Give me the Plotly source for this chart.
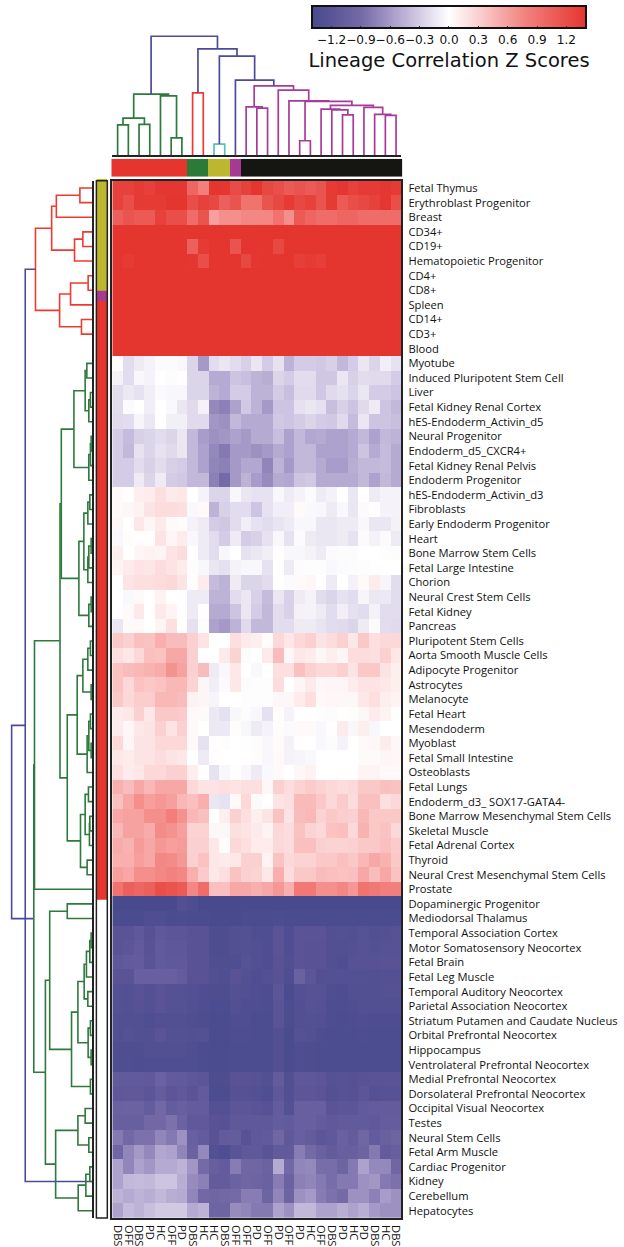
import plotly.graph_objects as go

W, H = 624, 1247

col_labels = ["DBS","OFF","DBS","PD","HC","OFF","PD","DBS","HC","HC","DBS","OFF","OFF","PD","OFF","PD","OFF","PD","HC","OFF","DBS","PD","HC","PD","DBS","HC","DBS"]
row_labels = ["Fetal Thymus","Erythroblast Progenitor","Breast","CD34+","CD19+","Hematopoietic Progenitor","CD4+","CD8+","Spleen","CD14+","CD3+","Blood",
"Myotube","Induced Pluripotent Stem Cell","Liver","Fetal Kidney Renal Cortex","hES-Endoderm_Activin_d5","Neural Progenitor","Endoderm_d5_CXCR4+","Fetal Kidney Renal Pelvis","Endoderm Progenitor",
"hES-Endoderm_Activin_d3","Fibroblasts","Early Endoderm Progenitor","Heart","Bone Marrow Stem Cells","Fetal Large Intestine","Chorion","Neural Crest Stem Cells","Fetal Kidney","Pancreas",
"Pluripotent Stem Cells","Aorta Smooth Muscle Cells","Adipocyte Progenitor","Astrocytes","Melanocyte","Fetal Heart","Mesendoderm","Myoblast","Fetal Small Intestine","Osteoblasts",
"Fetal Lungs","Endoderm_d3_ SOX17-GATA4-","Bone Marrow Mesenchymal Stem Cells","Skeletal Muscle","Fetal Adrenal Cortex","Thyroid","Neural Crest Mesenchymal Stem Cells","Prostate",
"Dopaminergic Progenitor","Mediodorsal Thalamus","Temporal Association Cortex","Motor Somatosensory Neocortex","Fetal Brain","Fetal Leg Muscle","Temporal Auditory Neocortex","Parietal Association Neocortex",
"Striatum Putamen and Caudate Nucleus","Orbital Prefrontal Neocortex","Hippocampus","Ventrolateral Prefrontal Neocortex","Medial Prefrontal Neocortex","Dorsolateral Prefrontal Neocortex","Occipital Visual Neocortex",
"Testes","Neural Stem Cells","Fetal Arm Muscle","Cardiac Progenitor","Kidney","Cerebellum","Hepatocytes"]

z_high = [
[1.3,1.3,1.35,1.32,1.38,1.38,1.38,1.0,.8,1.4,1.38,1.22,1.3,1.4,1.25,1.2,1.1,1.15,1.1,1.15,1.35,1.38,1.3,1.35,1.35,1.38,1.35],
[1.3,1.2,1.35,1.35,1.35,1.4,1.4,1.2,1.3,1.25,1.05,1.15,.9,.9,1.15,1.25,1.35,1.25,1.3,1.15,1.35,1.1,1.2,1.25,1.3,1.38,1.2],
[1.05,1.15,1.1,1.1,1.3,1.2,1.2,.95,1.15,.6,.7,.7,.75,.75,.75,.9,.7,1.1,1.0,.95,.95,1.0,1.0,.95,.95,.95,.95],
[1.4]*27,
[1.4,1.4,1.4,1.4,1.4,1.4,1.4,1.05,1.35,1.4,1.4,1.15,1.4,1.4,1.4,1.25,1.4,1.4,1.4,1.4,1.4,1.4,1.4,1.4,1.4,1.4,1.4],
[1.4,1.35,1.4,1.4,1.4,1.4,1.4,1.38,1.2,1.4,1.4,1.4,1.25,1.38,1.4,1.4,1.4,1.33,1.35,1.33,1.4,1.4,1.4,1.4,1.4,1.4,1.4],
[1.4]*27,[1.4]*27,[1.4]*27,[1.4]*27,[1.4]*27,[1.4]*27,
]
z_mid_low = [
[.02,-.2,-.12,-.07,-.03,-.03,-.05,-.25,-.6,-.2,-.15,-.2,-.28,-.15,-.3,-.17,-.45,-.3,-.3,-.32,-.28,-.42,-.3,-.15,-.25,-.1,-.17],
[-.08,-.2,-.05,-.07,0,-.02,0,-.25,-.25,-.5,-.5,-.35,-.38,-.45,-.48,-.25,-.3,-.2,-.2,-.33,-.33,-.15,-.28,-.2,-.22,-.22,-.3],
[-.2,-.13,-.17,-.1,-.03,-.05,-.05,-.25,-.25,-.45,-.5,-.3,-.3,-.45,-.45,-.3,-.38,-.22,-.22,-.33,-.22,-.18,-.25,-.15,-.3,-.3,-.35],
[-.2,-.03,0,-.1,0,-.04,-.15,-.22,-.08,-.7,-.75,-.55,-.32,-.45,-.6,-.35,-.35,-.18,-.15,-.18,-.38,-.28,-.35,-.22,-.12,-.35,-.42],
[-.22,-.2,-.06,-.14,0,-.09,-.09,-.22,-.22,-.62,-.65,-.42,-.5,-.5,-.5,-.32,-.35,-.3,-.25,-.3,-.32,-.22,-.4,-.15,-.35,-.35,-.38],
[-.3,-.4,-.28,-.25,-.2,-.25,-.15,-.42,-.58,-.65,-.62,-.55,-.6,-.5,-.5,-.38,-.55,-.42,-.52,-.5,-.55,-.55,-.5,-.42,-.55,-.42,-.45],
[-.3,-.42,-.17,-.25,-.17,-.22,-.15,-.42,-.55,-.7,-.8,-.6,-.6,-.65,-.6,-.5,-.55,-.42,-.42,-.55,-.55,-.55,-.5,-.35,-.5,-.4,-.5],
[-.3,-.3,-.2,-.28,-.2,-.28,-.3,-.42,-.55,-.72,-.75,-.6,-.52,-.52,-.72,-.45,-.6,-.42,-.42,-.5,-.58,-.58,-.48,-.42,-.42,-.4,-.5],
[-.3,-.3,-.12,-.25,-.12,-.3,-.32,-.42,-.42,-.75,-.9,-.6,-.45,-.58,-.68,-.5,-.52,-.35,-.32,-.5,-.5,-.5,-.5,-.42,-.55,-.42,-.5],
]
z_near_zero = [
[.03,0,.1,.12,.2,.13,.15,0,-.07,-.25,-.25,-.05,-.15,-.17,-.17,-.05,-.12,-.07,-.03,-.12,-.08,0,-.15,0,-.12,-.07,-.07],
[.03,.05,.08,.17,.22,.22,.2,-.04,.04,-.45,-.28,-.2,-.2,-.35,-.17,-.1,-.1,.03,-.04,-.05,-.12,-.04,-.15,-.03,0,-.07,-.07],
[.05,0,.15,.06,.13,.04,.02,-.08,-.12,-.3,-.33,-.2,-.1,-.17,-.2,-.16,-.12,-.05,-.05,-.15,-.15,-.12,-.12,-.05,-.15,-.15,-.08],
[-.05,.02,.01,.01,.17,.06,.12,-.05,-.12,-.2,-.3,-.12,-.3,-.27,-.17,-.05,-.17,-.03,-.12,-.15,-.15,-.12,-.17,-.03,-.08,-.03,-.12],
[.1,0,.06,.08,.07,.18,.22,0,-.12,-.2,-.05,0,-.17,-.14,-.1,.01,-.05,-.05,-.07,-.12,-.03,-.02,-.02,0,0,-.01,-.02],
[.07,.13,.18,.16,.22,.18,.13,-.01,-.05,-.15,-.18,-.07,-.05,-.05,-.17,0,-.12,-.02,-.01,-.01,-.04,-.03,-.02,-.01,0,0,0],
[0,.17,.2,.2,.22,.25,.17,-.01,.12,-.4,-.45,-.12,-.25,-.25,-.2,0,-.03,.03,.05,0,-.12,0,-.08,.03,.12,-.06,-.2],
[0,-.04,.04,0,.08,0,0,-.12,-.12,-.45,-.45,-.2,-.15,-.28,-.4,-.15,-.27,-.12,-.07,-.2,-.25,-.17,-.2,-.06,-.14,-.13,-.2],
[0,.04,.14,0,.14,.07,0,-.12,0,-.5,-.5,-.35,-.15,-.3,-.42,-.2,-.27,-.08,-.07,-.12,-.2,-.1,-.18,-.2,-.08,-.2,-.2],
[-.15,.03,.04,0,.07,.2,0,-.18,-.01,-.55,-.6,-.45,-.22,-.42,-.42,-.2,-.2,-.12,-.12,-.16,-.2,-.22,-.25,-.12,-.03,-.2,-.22],
]
z_light_pos = [
[.35,.3,.4,.38,.5,.42,.42,.3,.18,0,0,.2,.13,.1,.02,.25,.15,.25,.3,.17,.22,.3,.15,.35,.2,.25,.25],
[.2,.15,.25,.4,.38,.55,.55,.3,0,0,.13,.28,-.02,0,.13,.42,.05,.15,.12,.05,.1,.06,.22,.22,.2,.3,.15],
[.38,.42,.45,.48,.52,.68,.58,.3,.42,-.12,-.04,.15,0,-.04,0,.2,.2,.4,.3,.25,.25,.3,.17,.35,.35,.17,.1],
[.38,.25,.38,.35,.38,.45,.45,.28,.06,-.1,-.03,.15,-.02,-.01,-.01,.22,0,.06,.13,.05,.06,.06,.12,.18,.18,.15,.1],
[.35,.25,.32,.32,.45,.45,.42,.08,.06,-.06,0,0,-.01,-.01,-.01,.05,.05,.12,.2,.04,.05,.05,.05,.15,.2,.1,.08],
[.12,.15,.3,.15,.35,.35,.33,.04,.03,-.13,-.18,-.05,-.02,-.05,-.18,.02,-.07,0,0,-.01,-.02,0,.02,.05,.12,.08,0],
[.12,.05,.15,.17,.3,.18,.3,.03,0,-.13,-.13,.02,-.05,-.12,-.07,.02,-.03,.04,.03,-.05,.01,.13,-.05,.1,-.05,0,0],
[.25,.06,.17,.17,.25,.25,.25,.04,-.17,0,.02,0,0,.02,-.05,.03,-.08,0,0,-.04,-.02,-.07,0,.03,.05,.12,.05],
[.15,.12,.17,.17,.22,.17,.15,0,-.12,.01,0,0,0,.02,-.05,.04,-.07,-.06,-.04,0,0,0,0,.03,.03,.06,.05],
[.2,.12,.15,.25,.25,.3,.3,.1,0,-.17,-.05,.01,-.05,-.12,-.04,.04,0,.05,.09,0,0,0,0,.07,.08,.04,.04],
]
z_pos = [
[.5,.42,.55,.45,.55,.55,.55,.25,.18,.18,.2,.18,.2,.2,.05,.3,.22,.28,.33,.28,.25,.22,.25,.35,.35,.4,.38],
[.4,.55,.7,.6,.65,.6,.45,.4,.5,-.15,-.17,.04,.25,.03,0,.18,.2,.43,.43,.35,.25,.33,.22,.4,.4,.2,.25],
[.55,.58,.58,.7,.7,.8,.68,.45,.4,0,.1,.3,.2,.1,.17,.38,.18,.42,.45,.28,.35,.32,.3,.45,.35,.35,.35],
[.45,.58,.58,.52,.72,.68,.6,.28,.28,.05,.05,.2,.18,.13,.08,.25,.22,.38,.28,.25,.38,.4,.25,.48,.35,.38,.25],
[.52,.48,.62,.55,.65,.6,.62,.3,.3,.15,.02,.25,.2,.12,.12,.25,.22,.4,.4,.3,.28,.28,.3,.35,.35,.4,.33],
[.5,.5,.6,.55,.75,.72,.65,.3,.38,.15,.13,.15,.3,.3,.08,.38,.25,.28,.28,.35,.35,.4,.35,.45,.55,.48,.35],
[.6,.55,.7,.7,.75,.78,.75,.5,.33,.15,.2,.38,.3,.28,.15,.5,.22,.35,.35,.42,.4,.38,.4,.55,.42,.55,.38],
[.9,1.05,1.0,1.05,1.2,1.15,1.1,.75,.95,.4,.4,.55,.55,.5,.55,.65,.5,.85,.85,.7,.7,.75,.65,.9,.85,.8,.8],
]
z_neg = [
[-1.4,-1.4,-1.4,-1.4,-1.4,-1.4,-1.3,-1.35,-1.4,-1.4,-1.4,-1.4,-1.4,-1.4,-1.4,-1.4,-1.4,-1.4,-1.4,-1.4,-1.4,-1.4,-1.4,-1.4,-1.4,-1.4,-1.4],
[-1.38,-1.38,-1.38,-1.32,-1.32,-1.38,-1.36,-1.38,-1.38,-1.4,-1.4,-1.4,-1.38,-1.38,-1.38,-1.36,-1.38,-1.38,-1.38,-1.38,-1.38,-1.38,-1.38,-1.38,-1.38,-1.38,-1.38],
[-1.2,-1.2,-1.15,-1.25,-1.15,-1.18,-1.18,-1.22,-1.22,-1.35,-1.35,-1.3,-1.28,-1.32,-1.32,-1.2,-1.32,-1.2,-1.2,-1.2,-1.3,-1.28,-1.3,-1.25,-1.3,-1.28,-1.25],
[-1.2,-1.18,-1.12,-1.22,-1.12,-1.16,-1.16,-1.22,-1.22,-1.35,-1.35,-1.3,-1.28,-1.3,-1.32,-1.2,-1.32,-1.2,-1.22,-1.22,-1.3,-1.3,-1.28,-1.25,-1.28,-1.24,-1.24],
[-1.15,-1.12,-1.1,-1.2,-1.12,-1.15,-1.15,-1.22,-1.22,-1.33,-1.33,-1.32,-1.25,-1.3,-1.32,-1.22,-1.3,-1.2,-1.22,-1.22,-1.3,-1.32,-1.25,-1.25,-1.25,-1.22,-1.22],
[-1.2,-1.2,-1.05,-1.05,-1.05,-1.05,-1.1,-1.22,-1.22,-1.3,-1.32,-1.22,-1.28,-1.32,-1.28,-1.22,-1.32,-1.02,-1.18,-1.3,-1.28,-1.28,-1.28,-1.28,-1.3,-1.28,-1.28],
[-1.27,-1.28,-1.22,-1.28,-1.2,-1.27,-1.27,-1.28,-1.32,-1.35,-1.35,-1.28,-1.3,-1.32,-1.34,-1.18,-1.38,-1.28,-1.25,-1.25,-1.32,-1.34,-1.3,-1.3,-1.3,-1.27,-1.27],
[-1.27,-1.28,-1.25,-1.28,-1.2,-1.27,-1.27,-1.3,-1.32,-1.36,-1.36,-1.3,-1.32,-1.32,-1.34,-1.2,-1.36,-1.3,-1.25,-1.26,-1.34,-1.34,-1.32,-1.3,-1.3,-1.3,-1.3],
[-1.3,-1.3,-1.3,-1.32,-1.3,-1.3,-1.3,-1.33,-1.35,-1.38,-1.38,-1.33,-1.32,-1.36,-1.36,-1.2,-1.37,-1.3,-1.28,-1.3,-1.34,-1.36,-1.34,-1.33,-1.34,-1.34,-1.34],
[-1.3,-1.27,-1.3,-1.3,-1.2,-1.28,-1.28,-1.3,-1.28,-1.38,-1.38,-1.35,-1.34,-1.36,-1.36,-1.3,-1.38,-1.27,-1.3,-1.34,-1.36,-1.36,-1.36,-1.34,-1.36,-1.36,-1.36],
[-1.33,-1.32,-1.33,-1.3,-1.3,-1.3,-1.3,-1.32,-1.36,-1.38,-1.38,-1.36,-1.36,-1.36,-1.36,-1.3,-1.38,-1.33,-1.35,-1.36,-1.36,-1.36,-1.36,-1.36,-1.36,-1.36,-1.36],
[-1.33,-1.32,-1.34,-1.32,-1.32,-1.32,-1.32,-1.32,-1.36,-1.38,-1.38,-1.36,-1.36,-1.36,-1.36,-1.3,-1.38,-1.33,-1.35,-1.36,-1.36,-1.36,-1.36,-1.36,-1.36,-1.36,-1.36],
[-1.12,-1.12,-1.12,-1.14,-1.02,-1.12,-1.12,-1.16,-1.18,-1.35,-1.35,-1.22,-1.22,-1.24,-1.3,-1.1,-1.3,-1.16,-1.16,-1.18,-1.26,-1.24,-1.26,-1.22,-1.2,-1.2,-1.2],
[-1.16,-1.14,-1.14,-1.18,-1.08,-1.18,-1.14,-1.2,-1.12,-1.36,-1.36,-1.26,-1.26,-1.28,-1.32,-1.16,-1.3,-1.18,-1.18,-1.2,-1.28,-1.24,-1.26,-1.18,-1.26,-1.24,-1.24],
[-1.02,-1.0,-1.0,-1.08,-.92,-1.08,-1.05,-1.1,-1.1,-1.28,-1.28,-1.18,-1.18,-1.2,-1.25,-1.1,-1.28,-1.05,-1.05,-1.05,-1.2,-1.18,-1.18,-1.12,-1.1,-1.1,-1.1],
[-1.05,-1.05,-1.05,-.92,-.92,-.85,-1.0,-1.15,-1.15,-1.22,-1.25,-1.14,-1.14,-1.14,-1.14,-1.08,-1.12,-1.05,-1.05,-1.1,-1.15,-1.12,-1.12,-1.12,-1.15,-1.08,-1.08],
[-.8,-.92,-.85,-.85,-.72,-.8,-.65,-1.05,-1.1,-1.22,-1.1,-1.08,-1.22,-1.15,-1.12,-.95,-1.15,-1.05,-1.1,-1.18,-1.15,-1.03,-1.1,-.95,-1.1,-1.03,-.98],
[-.95,-.72,-.6,-.7,-.52,-.55,-.72,-1.0,-.7,-1.28,-1.32,-1.2,-1.15,-1.15,-1.2,-1.12,-1.12,-.78,-.9,-1.02,-1.1,-1.05,-1.05,-.98,-.8,-1.1,-1.05],
[-.55,-.72,-.55,-.62,-.5,-.5,-.45,-.62,-.9,-1.05,-1.1,-.78,-.95,-.95,-1.0,-.5,-.92,-.72,-.7,-.88,-.88,-.98,-.8,-.55,-.7,-.7,-.95],
[-.55,-.42,-.4,-.42,-.35,-.35,-.48,-.68,-.75,-1.1,-1.1,-1.0,-.95,-.98,-1.02,-.78,-1.0,-.75,-.72,-.8,-.88,-.8,-.8,-.65,-.62,-.8,-.85],
[-.45,-.5,-.45,-.48,-.42,-.48,-.5,-.72,-.92,-.95,-.92,-.9,-.78,-.78,-.98,-.72,-.98,-.65,-.6,-.78,-.85,-.9,-.65,-.65,-.75,-.58,-.65],
[-.55,-.4,-.45,-.38,-.32,-.32,-.32,-.5,-.45,-.98,-.98,-.68,-.72,-.8,-.8,-.55,-.65,-.42,-.42,-.55,-.55,-.48,-.55,-.48,-.6,-.65,-.65],
]
z_values = z_high + z_mid_low + z_near_zero + z_light_pos + z_pos + z_neg

col_clusters = [0]*7 + [1]*2 + [2]*2 + [3] + [4]*15
cluster_colors = ["#e5352f", "#2c7a38", "#bdb72f", "#a63a92", "#151512", "#ffffff"]
row_band_edges = [-0.64, 7.02, 7.7, 48.7, 70.5]
row_band_clusters = [2, 3, 0, 5]

BLUE, GREEN, RED, CYAN, MAG = "#4b4a9c", "#2d7a3c", "#ee3a30", "#5fbcb8", "#a83b9a"

# Top (column) dendrogram: (height, left, right, colour); ints are leaves
t_green = (61, (37, (30.3, 0, 1, GREEN), (30.7, 2, 3, GREEN), GREEN),
           (59.3, 4, (17.3, 5, 6, GREEN), GREEN), GREEN)
t_red = (62.3, 7, 8, RED)
t_cyan = (11, 9, 10, CYAN)
t_a = (48.3, 12, (47, 13, 14, MAG), MAG)
t_b = (46, 19, (45.3, 20, (40.3, 21, 22, MAG), MAG), MAG)
t_c = (47.7, 23, (40.7, 24, (39.7, 25, 26, MAG), MAG), MAG)
t_d = (53.7, (14.3, 17, 18, MAG), (49.7, t_b, t_c, MAG), MAG)
t_e = (65, 15, (54.3, 16, t_d, MAG), MAG)
t_f = (75, 11, (69.3, t_a, t_e, MAG), BLUE)
top_tree = (119, t_green, (106.3, t_red, (99, t_cyan, t_f, BLUE), BLUE), BLUE)

# Left (row) dendrogram
r_1 = (40.7, (36, (12.3, 0, 1, RED), 2, RED), (17.7, (9.3, 3, 4, RED), 5, RED), RED)
r_2 = (32.7, (21.7, (4, 6, 7, RED), 8, RED), (10.7, 9, 10, RED), RED)
r_red = (57, r_1, r_2, RED)
g = GREEN
g_1 = (7, (5.3, 12, 13, g), (3.3, (1.7, 14, 15, g), 16, g), g)
g_2 = (3.3, (1.7, (1, 17, 18, g), 19, g), 20, g)
g_3 = (18.3, g_1, g_2, g)
g_4 = (8.3, (4.3, (2.3, 21, 22, g), 23, g),
       (4.3, (3.3, (1, 24, 25, g), 26, g), 27, g), g)
g_5 = (13.3, g_4, (3.3, (1, 28, 29, g), 30, g), g)
g_6 = (31, g_3, g_5, g)
g_7 = (9.3, (4.3, (1.7, 31, 32, g), 33, g), (1, 34, 35, g), g)
g_8 = (5, (3.3, (1.7, 36, 37, g), (1, 38, 39, g), g), 40, g)
g_9 = (15, g_7, g_8, g)
g_10 = (7, (3.7, 41, 42, g), (2.7, (2.3, 43, 44, g), 45, g), g)
g_11 = (11.7, g_10, (5, 46, 47, g), g)
g_12 = (32.3, g_6, (25, g_9, g_11, g), g)
g_13 = (58, g_12, 48, g)
g_14 = (8, (5.7, (2.3, (1, 51, 52, g), 53, g), 54, g), (4.3, 55, 56, g), g)
g_15 = (4, (1.7, 57, 58, g), (1, 59, 60, g), g)
g_16 = (20.7, (14.3, g_14, g_15, g), (1.7, 61, 62, g), g)
g_17 = (42.7, (25, 49, 50, g), g_16, g)
g_18 = (14.3, (7, 63, 64, g), (3.3, 65, 66, g), g)
g_19 = (14, (6.3, (2.3, 67, 68, g), 69, g), 70, g)
g_20 = (47, g_17, (36.7, g_18, g_19, g), g)
row_tree = (81, (67.3, r_red, 68, BLUE), (58.7, g_13, g_20, g), BLUE)


def walk(node, segs):
    if isinstance(node, int):
        return node, 0
    h, a, b, c = node
    pa, ha = walk(a, segs)
    pb, hb = walk(b, segs)
    segs.setdefault(c, []).append(((pa, pb), (ha, h, hb)))
    return (pa + pb) / 2, h


def px_x(x0, x1):
    return [x0 / W, x1 / W]


def px_y(top, bottom):
    return [1 - bottom / H, 1 - top / H]


HX0, HX1, HY0, HY1 = 112, 403, 180, 1219

colorscale = [[0, "#494a8e"], [.07, "#5a5497"], [.18, "#746aa6"], [.29, "#a79bc9"], [.39, "#d3cbe5"], [.5, "#ffffff"],
              [.62, "#fbcaca"], [.78, "#f2817d"], [1, "#e5352f"]]

fig = go.Figure()
fig.add_trace(go.Heatmap(
    z=z_values, x=list(range(27)), y=list(range(71)), zmin=-1.4, zmax=1.4, colorscale=colorscale,
    xaxis="x", yaxis="y", hoverinfo="skip",
    colorbar=dict(orientation="h", x=313 / W, xanchor="left", y=1 - 5 / H, yanchor="top",
                  len=274, lenmode="pixels", thickness=22, thicknessmode="pixels", xpad=0, ypad=0,
                  tickvals=[-1.2, -.9, -.6, -.3, 0, .3, .6, .9, 1.2],
                  ticktext=["\u22121.2", "\u22120.9", "\u22120.6", "\u22120.3", "0.0", "0.3", "0.6", "0.9", "1.2"],
                  tickangle=0,
                  ticks="inside", ticklen=3, tickcolor="#333333", tickwidth=1,
                  tickfont=dict(family="DejaVu Sans", size=12.1, color="#111111"),
                  outlinecolor="#111111", outlinewidth=2,
                  title=dict(text="Lineage Correlation Z Scores", side="bottom",
                             font=dict(family="DejaVu Sans", size=19.5, color="#111111")))))

n = len(cluster_colors) - 1
discrete = [[i / n, c] for i, c in enumerate(cluster_colors)]
fig.add_trace(go.Heatmap(z=[col_clusters], x=list(range(27)), zmin=0, zmax=n, colorscale=discrete,
                         showscale=False, xaxis="x2", yaxis="y2", hoverinfo="skip"))
fig.add_trace(go.Heatmap(z=[[v] for v in row_band_clusters], x=[0], y=row_band_edges, zmin=0, zmax=n,
                         colorscale=discrete, showscale=False, xaxis="x3", yaxis="y3", hoverinfo="skip"))

top_segs = {}
walk(top_tree, top_segs)
for c, items in top_segs.items():
    xs, ys = [], []
    for (pa, pb), (ha, h, hb) in items:
        xs += [pa, pa, pb, pb, None]
        ys += [ha, h, h, hb, None]
    fig.add_trace(go.Scatter(x=xs, y=ys, mode="lines", line=dict(color=c, width=1.7),
                             xaxis="x4", yaxis="y4", showlegend=False, hoverinfo="skip"))
row_segs = {}
walk(row_tree, row_segs)
for c, items in row_segs.items():
    xs, ys = [], []
    for (pa, pb), (ha, h, hb) in items:
        ys += [pa, pa, pb, pb, None]
        xs += [ha, h, h, hb, None]
    fig.add_trace(go.Scatter(x=xs, y=ys, mode="lines", line=dict(color=c, width=1.6),
                             xaxis="x5", yaxis="y5", showlegend=False, hoverinfo="skip"))

hidden = dict(showticklabels=False, ticks="", showgrid=False, zeroline=False)
label_font = dict(family="Open Sans", size=11.2, color="#111111")

fig.update_layout(
    width=W, height=H, autosize=False, margin=dict(l=0, r=0, t=0, b=0),
    paper_bgcolor="white", plot_bgcolor="white", showlegend=False,
    xaxis=dict(domain=px_x(HX0, HX1), range=[-.5, 26.5], tickmode="array", tickvals=list(range(27)),
               ticktext=col_labels, tickangle=90, tickfont=label_font, ticks="outside", ticklen=3,
               tickcolor="rgba(0,0,0,0)", showgrid=False, zeroline=False, anchor="y",
               showline=True, mirror=True, linecolor="#222222", linewidth=1.5),
    yaxis=dict(domain=px_y(HY0, HY1), range=[70.5, -.5], tickmode="array", tickvals=list(range(71)),
               ticktext=row_labels, side="right", tickfont=label_font, ticks="outside", ticklen=3,
               tickcolor="rgba(0,0,0,0)", showgrid=False, zeroline=False, anchor="x",
               showline=True, mirror=True, linecolor="#222222", linewidth=1.5),
    xaxis2=dict(domain=px_x(111, 404), range=[-.5, 26.5], anchor="y2", **hidden),
    yaxis2=dict(domain=px_y(158, 176), anchor="x2", **hidden),
    xaxis3=dict(domain=px_x(96, 107), range=[-.5, .5], anchor="y3", **hidden),
    yaxis3=dict(domain=px_y(178, HY1), range=[70.5, -.64], anchor="x3", **hidden),
    xaxis4=dict(domain=px_x(HX0, HX1), range=[-.5, 26.5], anchor="y4", **hidden,
                showline=True, linecolor="#222222", linewidth=1.5),
    yaxis4=dict(domain=px_y(30, 154.3), range=[0, 124.3], anchor="x4", **hidden),
    xaxis5=dict(domain=px_x(0, 91.7), range=[91.7, 0], anchor="y5", **hidden),
    yaxis5=dict(domain=px_y(HY0, HY1), range=[70.5, -.5], anchor="x5", side="right", **hidden,
                showline=True, linecolor="#222222", linewidth=1.5),
    shapes=[dict(type="rect", xref="paper", yref="paper", x0=96 / W, x1=107 / W,
                 y0=1 - HY1 / H, y1=1 - HY0 / H, line=dict(color="#222222", width=1.5))],
)

fig.write_html("out.html", config={"displayModeBar": False}, post_script="document.body.style.margin='0';")
